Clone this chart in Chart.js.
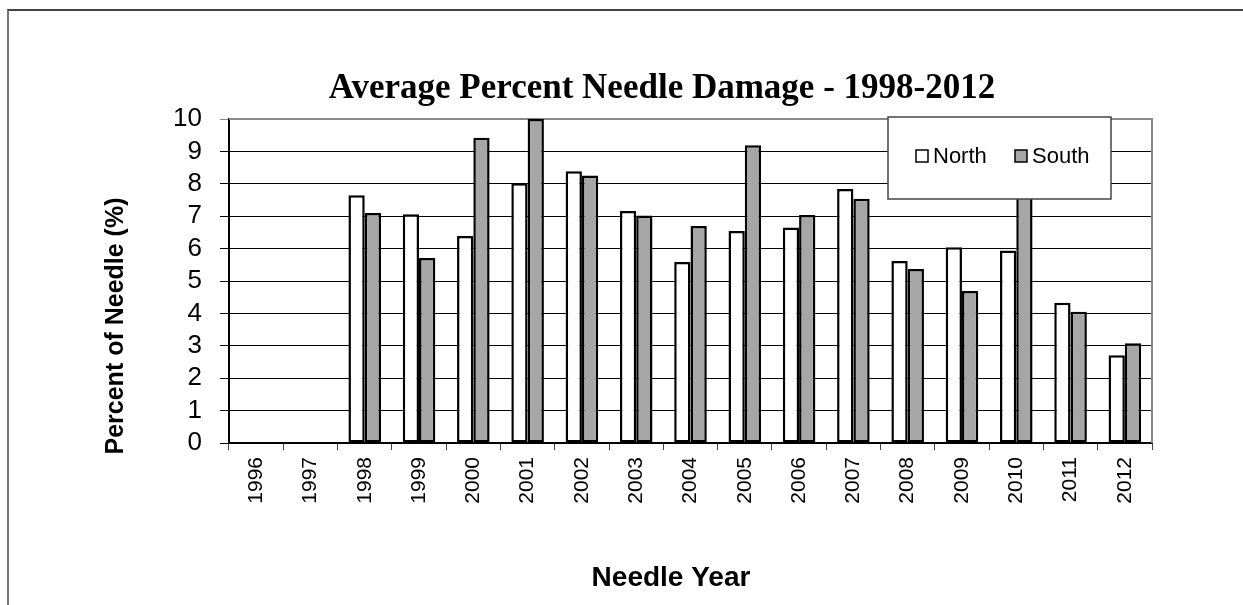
<!DOCTYPE html>
<html>
<head>
<meta charset="utf-8">
<script src="https://cdn.jsdelivr.net/npm/chart.js@4"></script>
<style>
  html, body { margin: 0; padding: 0; background: #fff; }
  #wrap { position: relative; width: 1243px; height: 605px; overflow: hidden; }
  #frame { position: absolute; left: 7px; top: 9px; width: 1400px; height: 800px;
           border-left: 2px solid #777; border-top: 2px solid #444; }
  canvas { position: absolute; left: 0; top: 0; }
</style>
</head>
<body>
<div id="wrap">
  <div id="frame"></div>
  <canvas id="barChart" width="1243" height="605"></canvas>
</div>
<script>
// data
const years = ["1996", "1997", "1998", "1999", "2000", "2001", "2002", "2003", "2004",
  "2005", "2006", "2007", "2008", "2009", "2010", "2011", "2012"];
const north = [null, null, 7.65, 7.06, 6.39, 8.02, 8.39, 7.16, 5.59,
  6.54, 6.65, 7.84, 5.62, 6.04, 5.94, 4.33, 2.71];
const south = [null, null, 7.10, 5.71, 9.42, 10.0, 8.26, 7.02, 6.70,
  9.19, 7.04, 7.54, 5.37, 4.69, 8.5, 4.05, 3.08];

const chartTitle = "Average Percent Needle Damage - 1998-2012";
const xTitle = "Needle Year";
const yTitle = "Percent of Needle (%)";

// titles, plot frame and the boxed legend
const extras = {
  id: "extras",
  beforeDatasetsDraw(chart) {
    const { ctx, chartArea: a } = chart;
    ctx.save();
    ctx.strokeStyle = "#888";
    ctx.lineWidth = 2;
    ctx.beginPath();
    ctx.moveTo(a.left, a.top);
    ctx.lineTo(a.right, a.top);
    ctx.lineTo(a.right, a.bottom);
    ctx.stroke();
    ctx.restore();
  },
  afterDatasetsDraw(chart) {
    const { ctx, chartArea: a } = chart;
    ctx.save();
    ctx.fillStyle = "#000";

    ctx.font = "bold 35px 'Liberation Serif'";
    ctx.textAlign = "center";
    ctx.textBaseline = "middle";
    ctx.fillText(chartTitle, 662, 89);

    ctx.font = "bold 28px 'Liberation Sans'";
    ctx.fillText(xTitle, 671, 578);

    ctx.save();
    ctx.translate(116, 326);
    ctx.rotate(-Math.PI / 2);
    ctx.font = "bold 25px 'Liberation Sans'";
    ctx.fillText(yTitle, 0, 0);
    ctx.restore();

    // legend box
    const bx = a.right - 264, by = a.top - 2, bw = 223, bh = 82;
    ctx.fillStyle = "#fff";
    ctx.fillRect(bx, by, bw, bh);
    ctx.strokeStyle = "#444";
    ctx.lineWidth = 1.5;
    ctx.strokeRect(bx, by, bw, bh);

    ctx.font = "22px 'Liberation Sans'";
    ctx.textAlign = "left";
    const itemX = [bx + 28, bx + 127];
    chart.data.datasets.forEach((ds, i) => {
      const sx = itemX[i], sy = by + 33;
      ctx.fillStyle = ds.backgroundColor;
      ctx.fillRect(sx, sy, 12, 12);
      ctx.strokeStyle = "#000";
      ctx.lineWidth = 1.5;
      ctx.strokeRect(sx, sy, 12, 12);
      ctx.fillStyle = "#000";
      ctx.fillText(ds.label, sx + 17, sy + 7);
    });
    ctx.restore();
  }
};

const ctx = document.getElementById("barChart").getContext("2d");
const myChart = new Chart(ctx, {
  type: "bar",
  data: {
    labels: years,
    datasets: [
      {
        label: "North",
        data: north,
        backgroundColor: "#ffffff",
        borderColor: "#000000",
        borderWidth: 2.5,
        borderSkipped: false,
      },
      {
        label: "South",
        data: south,
        backgroundColor: "#a6a6a6",
        borderColor: "#000000",
        borderWidth: 2.5,
        borderSkipped: false,
      },
    ],
  },
  options: {
    responsive: false,
    animation: false,
    layout: { padding: { left: 0, top: 119, right: 91, bottom: 0 } },
    datasets: { bar: { categoryPercentage: 0.6, barPercentage: 1.0 } },
    plugins: {
      legend: { display: false },
      title: { display: false },
      tooltip: { enabled: false },
    },
    scales: {
      x: {
        afterFit(scale) { scale.height = 162; },
        grid: {
          display: true,
          drawOnChartArea: false,
          offset: true,
          tickLength: 7,
          color: "#444",
        },
        border: { color: "#000", width: 2 },
        ticks: {
          color: "#000",
          font: { family: "'Liberation Sans'", size: 21 },
          minRotation: 90,
          maxRotation: 90,
          padding: 7,
          autoSkip: false,
        },
      },
      y: {
        min: 0,
        max: 10,
        afterFit(scale) { scale.width = 229; },
        grid: {
          color: (c) => (c.tick && c.tick.value === 10 ? "#888" : "#000"),
          lineWidth: 1,
          tickLength: 9,
        },
        border: { color: "#000", width: 2 },
        ticks: {
          stepSize: 1,
          autoSkip: false,
          color: "#000",
          font: { family: "'Liberation Sans'", size: 26 },
          padding: 18,
        },
      },
    },
  },
  plugins: [extras],
});
</script>
</body>
</html>
